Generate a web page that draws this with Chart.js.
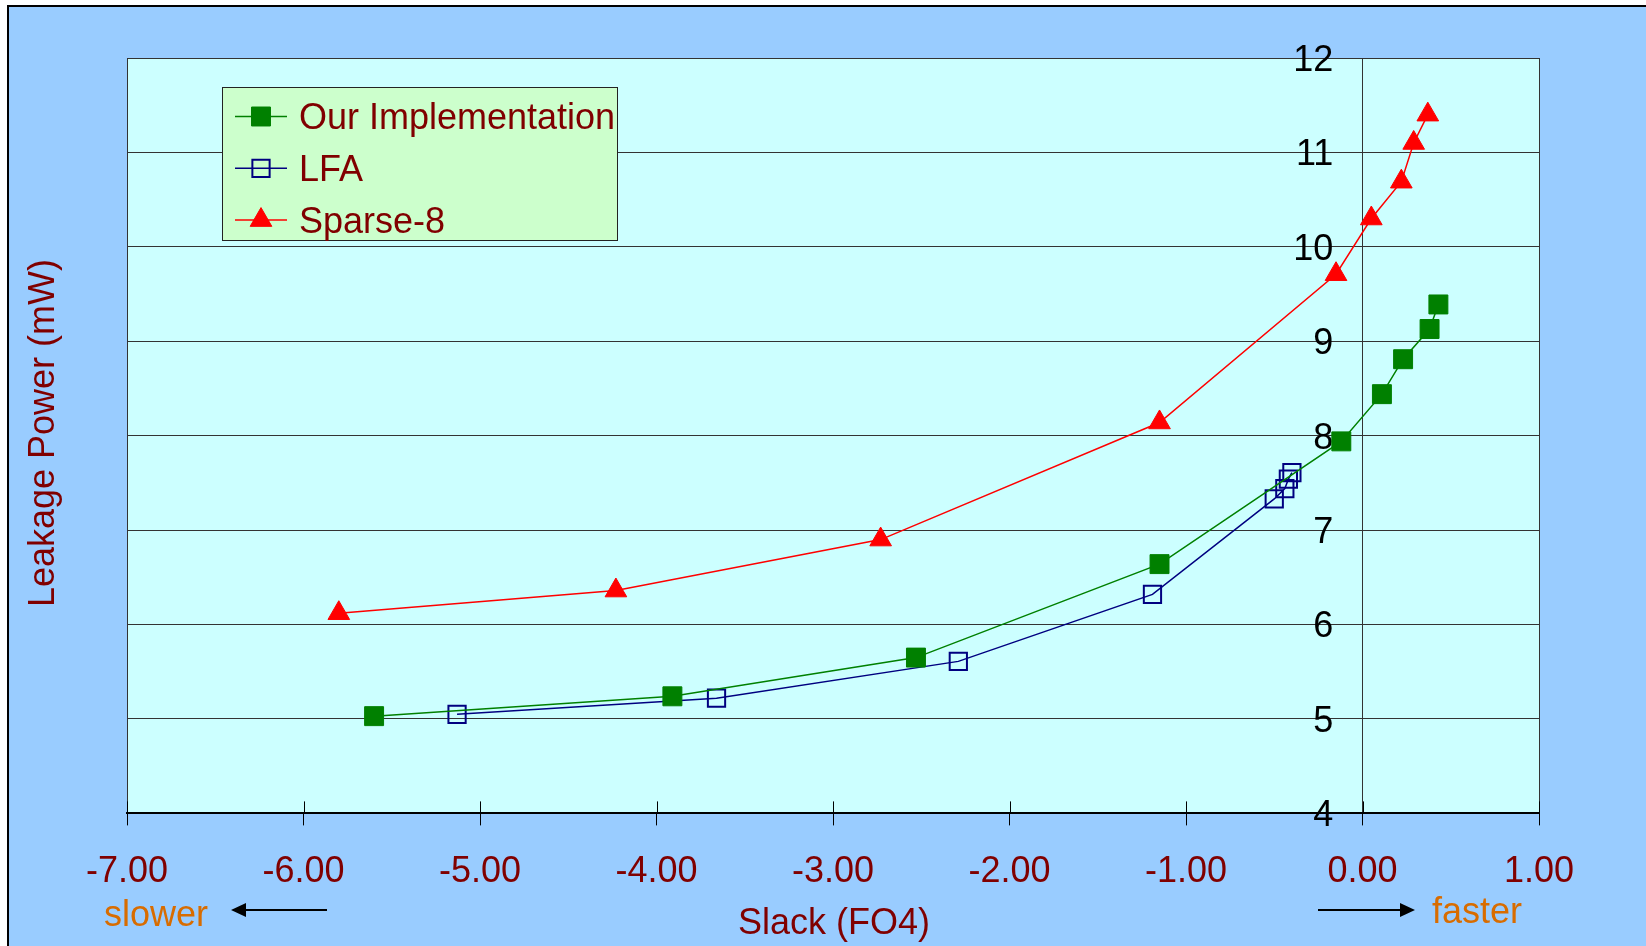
<!DOCTYPE html>
<html>
<head>
<meta charset="utf-8">
<script src="https://cdn.jsdelivr.net/npm/chart.js@4.4.1/dist/chart.umd.min.js"></script>
<style>
  html, body { margin: 0; padding: 0; background: #fff; overflow: hidden; }
  #frame { position: absolute; left: 7px; top: 5px; width: 1700px; height: 1000px; background: #99ccff; border: 2px solid #000; }
  #chart { position: absolute; left: 0; top: 0; }
</style>
</head>
<body>
<div id="frame"></div>
<canvas id="chart" width="1646" height="946"></canvas>
<script>
const FONT = 'Arial, "Liberation Sans", sans-serif';
const DARK_RED = '#800000';
const ORANGE = '#d86c00';

// axis ticks
const xTicks = [-7, -6, -5, -4, -3, -2, -1, 0, 1];
const yTicks = [4, 5, 6, 7, 8, 9, 10, 11, 12];

// series (slack in FO4, leakage power in mW)
const seriesNames = ['Our Implementation', 'LFA', 'Sparse-8'];
const ourSlack = [-5.60, -3.91, -2.53, -1.15, -0.12, 0.11, 0.23, 0.38, 0.43];
const ourPower = [5.03, 5.24, 5.65, 6.64, 7.94, 8.44, 8.81, 9.13, 9.39];
const lfaSlack = [-5.13, -3.66, -2.29, -1.19, -0.50, -0.44, -0.42, -0.40];
const lfaPower = [5.05, 5.22, 5.61, 6.32, 7.33, 7.44, 7.54, 7.61];
const sparseSlack = [-5.80, -4.23, -2.73, -1.15, -0.15, 0.05, 0.22, 0.29, 0.37];
const sparsePower = [6.12, 6.36, 6.90, 8.14, 9.71, 10.30, 10.69, 11.10, 11.40];

const toPoints = (xs, ys) => xs.map((x, i) => ({ x, y: ys[i] }));

function drawMarker(ctx, style, r, x, y) {
    ctx.beginPath();
    if (style === 'triangle') {
        ctx.moveTo(x, y - r);
        ctx.lineTo(x + r * 0.866, y + r * 0.5);
        ctx.lineTo(x - r * 0.866, y + r * 0.5);
        ctx.closePath();
    } else {
        const s = r * Math.SQRT1_2;
        ctx.rect(x - s, y - s, 2 * s, 2 * s);
    }
    ctx.fill();
    ctx.stroke();
}

function drawArrow(ctx, x1, x2, y) {
    // arrow head sits at x2
    const dir = x2 > x1 ? 1 : -1;
    ctx.beginPath();
    ctx.moveTo(x1, y);
    ctx.lineTo(x2 - dir * 12, y);
    ctx.stroke();
    ctx.beginPath();
    ctx.moveTo(x2, y);
    ctx.lineTo(x2 - dir * 15, y - 7);
    ctx.lineTo(x2 - dir * 15, y + 7);
    ctx.closePath();
    ctx.fill();
}

const plotBackground = {
    id: 'plotBackground',
    beforeDraw(chart) {
        const { ctx, chartArea: a } = chart;
        ctx.save();
        ctx.fillStyle = '#ccffff';
        ctx.fillRect(a.left, a.top, a.right - a.left, a.bottom - a.top);
        ctx.restore();
    },
    beforeDatasetsDraw(chart) {
        // upper half of the cross tick marks on the x axis
        const { ctx, chartArea: a, scales } = chart;
        ctx.save();
        ctx.strokeStyle = '#000';
        ctx.lineWidth = 1;
        scales.x.ticks.forEach((t) => {
            const px = Math.round(scales.x.getPixelForValue(t.value)) + 0.5;
            ctx.beginPath();
            ctx.moveTo(px, a.bottom - 12);
            ctx.lineTo(px, a.bottom);
            ctx.stroke();
        });
        ctx.restore();
    },
};

const boxLegend = {
    id: 'boxLegend',
    afterDatasetsDraw(chart) {
        const ctx = chart.ctx;
        ctx.save();
        ctx.fillStyle = '#ccffcc';
        ctx.fillRect(222.5, 87.5, 395, 153);
        ctx.strokeStyle = '#222';
        ctx.lineWidth = 1;
        ctx.strokeRect(222.5, 87.5, 395, 153);
        chart.data.datasets.forEach((ds, i) => {
            const y = 116.5 + i * 51.8;
            ctx.strokeStyle = ds.borderColor;
            ctx.lineWidth = ds.borderWidth;
            ctx.beginPath();
            ctx.moveTo(235, y);
            ctx.lineTo(287, y);
            ctx.stroke();
            ctx.fillStyle = ds.pointBackgroundColor;
            ctx.strokeStyle = ds.pointBorderColor;
            ctx.lineWidth = ds.pointBorderWidth;
            drawMarker(ctx, ds.pointStyle, ds.pointRadius, 261, y);
            ctx.fillStyle = DARK_RED;
            ctx.font = '36px ' + FONT;
            ctx.textAlign = 'left';
            ctx.textBaseline = 'middle';
            ctx.fillText(ds.label, 299, y + 3);
        });
        ctx.restore();
    },
};

const annotations = {
    id: 'annotations',
    afterDraw(chart) {
        const ctx = chart.ctx;
        ctx.save();
        ctx.font = '36px ' + FONT;
        ctx.textBaseline = 'middle';
        ctx.textAlign = 'center';

        ctx.fillStyle = DARK_RED;
        ctx.fillText('Slack (FO4)', 834, 924);
        ctx.save();
        ctx.translate(44, 433);
        ctx.rotate(-Math.PI / 2);
        ctx.fillText('Leakage Power (mW)', 0, 0);
        ctx.restore();

        ctx.fillStyle = ORANGE;
        ctx.fillText('slower', 156, 916);
        ctx.fillText('faster', 1477, 913);

        ctx.strokeStyle = '#000';
        ctx.fillStyle = '#000';
        ctx.lineWidth = 2;
        drawArrow(ctx, 327, 231, 910);
        drawArrow(ctx, 1318, 1415, 910);
        ctx.restore();
    },
};

// vertical lines: plot frame left/right and the zero-slack axis
const edgeLines = [-7, 0, 1];

new Chart(document.getElementById('chart'), {
    type: 'line',
    data: {
        datasets: [
            {
                label: seriesNames[0],
                data: toPoints(ourSlack, ourPower),
                borderColor: '#008000',
                borderWidth: 1.5,
                pointStyle: 'rect',
                pointRadius: 13.4,
                pointBackgroundColor: '#008000',
                pointBorderColor: '#008000',
                pointBorderWidth: 1,
            },
            {
                label: seriesNames[1],
                data: toPoints(lfaSlack, lfaPower),
                borderColor: '#000080',
                borderWidth: 1.5,
                pointStyle: 'rect',
                pointRadius: 12.2,
                pointBackgroundColor: 'rgba(0,0,0,0)',
                pointBorderColor: '#000080',
                pointBorderWidth: 2,
            },
            {
                label: seriesNames[2],
                data: toPoints(sparseSlack, sparsePower),
                borderColor: '#ff0000',
                borderWidth: 1.5,
                pointStyle: 'triangle',
                pointRadius: 12.5,
                pointBackgroundColor: '#ff0000',
                pointBorderColor: '#ff0000',
                pointBorderWidth: 1,
            },
        ],
    },
    options: {
        responsive: false,
        animation: false,
        devicePixelRatio: 1,
        layout: { padding: { left: 127, right: 107, top: 58, bottom: 27.4 } },
        elements: { line: { tension: 0 } },
        plugins: {
            legend: { display: false },
            tooltip: { enabled: false },
        },
        scales: {
            x: {
                type: 'linear',
                position: 'bottom',
                min: -7,
                max: 1,
                afterBuildTicks: (s) => { s.ticks = xTicks.map((v) => ({ value: v })); },
                grid: {
                    color: (c) => (c.tick && edgeLines.includes(c.tick.value) ? '#333' : 'rgba(0,0,0,0)'),
                    tickColor: '#000',
                    tickLength: 12,
                    lineWidth: 1,
                },
                border: { display: true, color: '#000', width: 2 },
                ticks: {
                    color: DARK_RED,
                    font: { family: FONT, size: 36 },
                    padding: 25,
                    maxRotation: 0,
                    autoSkip: false,
                    callback: (v) => Number(v).toFixed(2),
                },
            },
            y: {
                type: 'linear',
                // labels end a little left of the zero line, as in the original
                position: { x: -0.165 },
                min: 4,
                max: 12,
                afterBuildTicks: (s) => { s.ticks = yTicks.map((v) => ({ value: v })); },
                grid: { color: '#333', lineWidth: 1, drawTicks: false },
                border: { display: false },
                ticks: {
                    color: '#000',
                    font: { family: FONT, size: 36 },
                    padding: 0,
                    labelOffset: 3,
                    autoSkip: false,
                },
            },
        },
    },
    plugins: [plotBackground, boxLegend, annotations],
});
</script>
</body>
</html>
